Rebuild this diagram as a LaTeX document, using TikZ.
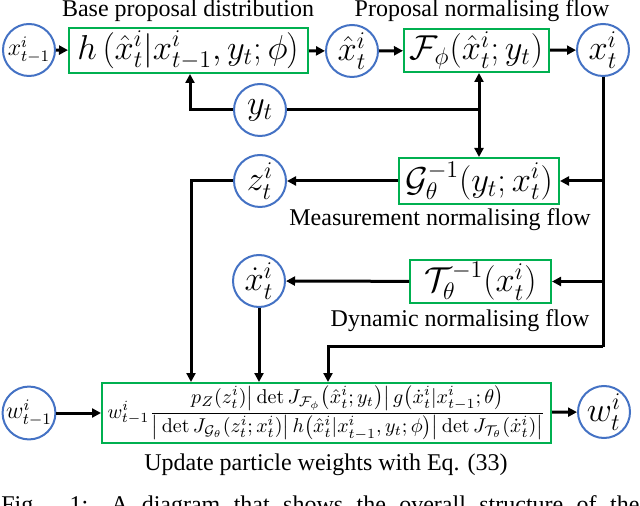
\documentclass[tikz,border=0pt]{standalone}
\usepackage[no-math]{fontspec}
\setmainfont{Liberation Serif}
\usetikzlibrary{arrows.meta}
\definecolor{cblue}{RGB}{68,114,196}
\definecolor{cgreen}{RGB}{0,176,80}
\begin{document}
\begin{tikzpicture}[x=0.5pt,y=-0.5pt,
  var/.style={circle,draw=cblue,line width=1pt,minimum size=26pt,inner sep=0pt,font=\fontsize{17}{20}\selectfont},
  fbox/.style={draw=cgreen,line width=1pt,inner sep=0pt,font=\fontsize{17.5}{20}\selectfont},
  lbl/.style={font=\fontsize{12}{14}\selectfont,inner sep=0pt},
  arr/.style={line width=1.5pt,-{Triangle[length=4.5pt,width=4.5pt]}},
  ln/.style={line width=1.5pt}]
\useasboundingbox (0,0) rectangle (640,506);
\clip (0,0) rectangle (640,506);
% nodes
\node[var] (xprev) at (29,50) {\fontsize{12}{14}\selectfont$x_{t-1}^{i}$};
\node[fbox,minimum width=119.5pt,minimum height=22.5pt] (hbox) at (188.5,50.5) {$h\left(\hat{x}_t^i|x_{t-1}^i,y_t;\phi\right)$};
\node[var] (xhat) at (352,51) {$\hat{x}_t^i$};
\node[fbox,minimum width=72.5pt,minimum height=21.5pt] (Fbox) at (476.5,50.5) {$\mathcal{F}_\phi(\hat{x}_t^i;y_t)$};
\node[var] (xt) at (603,50) {$x_t^i$};
\node[var] (yt) at (260,110) {$y_t$};
\node[fbox,minimum width=80pt,minimum height=23pt] (Gbox) at (479,181) {$\mathcal{G}_\theta^{-1}(y_t;x_t^i)$};
\node[var] (z) at (260,181) {$z_t^i$};
\node[fbox,minimum width=70.5pt,minimum height=21.5pt] (Tbox) at (480.5,281.5) {$\mathcal{T}_\theta^{-1}(x_t^i)$};
\node[var] (xdot) at (259,281) {$\dot{x}_t^i$};
\node[fbox,minimum width=224.5pt,minimum height=30pt,font=\fontsize{10.3}{12}\selectfont] (Wbox) at (326.5,413) {$w_{t-1}^i\displaystyle\frac{p_Z(z_t^i)\big|\det J_{\mathcal{F}_\phi}\big(\hat{x}_t^i;y_t\big)\big|\, g\big(\dot{x}_t^i|x_{t-1}^i;\theta\big)}{\big|\det J_{\mathcal{G}_\theta}(z_t^i;x_t^i)\big|\, h\big(\hat{x}_t^i|x_{t-1}^i,y_t;\phi\big)\big|\det J_{\mathcal{T}_\theta}(\dot{x}_t^i)\big|}$};
\node[var] (wprev) at (29,413) {\fontsize{12}{14}\selectfont$w_{t-1}^{i}$};
\node[var] (wt) at (604,412) {$w_t^i$};
% labels
\node[lbl] (l1) at (188,11) {Base proposal distribution};
\node[lbl] (l2) at (482,11) {Proposal normalising flow};
\node[lbl] (l3) at (440,220) {Measurement normalising flow};
\node[lbl] (l4) at (460,321) {Dynamic normalising flow};
\node[lbl] (l5) at (326,465) {Update particle weights with Eq. (33)};
\node[lbl,anchor=base west] (cap) at (1,512) {\makebox[319pt][s]{Fig. 1: A diagram that shows the overall structure of the}};
% junctions
\coordinate (jL) at (190,110);
\coordinate (jR) at (479,110);
\coordinate (jB) at (603,347);
\coordinate (jW) at (328,347);
\coordinate (jZ) at (191,181);
% connectors
\draw[arr] (xprev) -- (hbox);
\draw[arr] (hbox) -- (xhat);
\draw[arr] (xhat) -- (Fbox);
\draw[arr] (Fbox) -- (xt);
\draw[arr] (yt.west) -- (jL) -- (jL |- hbox.south);
\draw[ln] (yt.east) -- (jR);
\draw[arr] (jR) -- (jR |- Fbox.south);
\draw[arr] (jR) -- (jR |- Gbox.north);
\draw[ln] (xt.south) -- (jB);
\draw[arr] (xt.south |- Gbox.east) -- (Gbox.east);
\draw[arr] (xt.south |- Tbox.east) -- (Tbox.east);
\draw[arr] (jB) -- (jW) -- (jW |- Wbox.north);
\draw[arr] (Gbox) -- (z);
\draw[arr] (Tbox) -- (xdot);
\draw[arr] (z.west) -- (jZ) -- (jZ |- Wbox.north);
\draw[arr] (xdot.south) -- (xdot.south |- Wbox.north);
\draw[arr] (wprev) -- (Wbox);
\draw[arr] (Wbox) -- (wt);
\end{tikzpicture}
\end{document}
